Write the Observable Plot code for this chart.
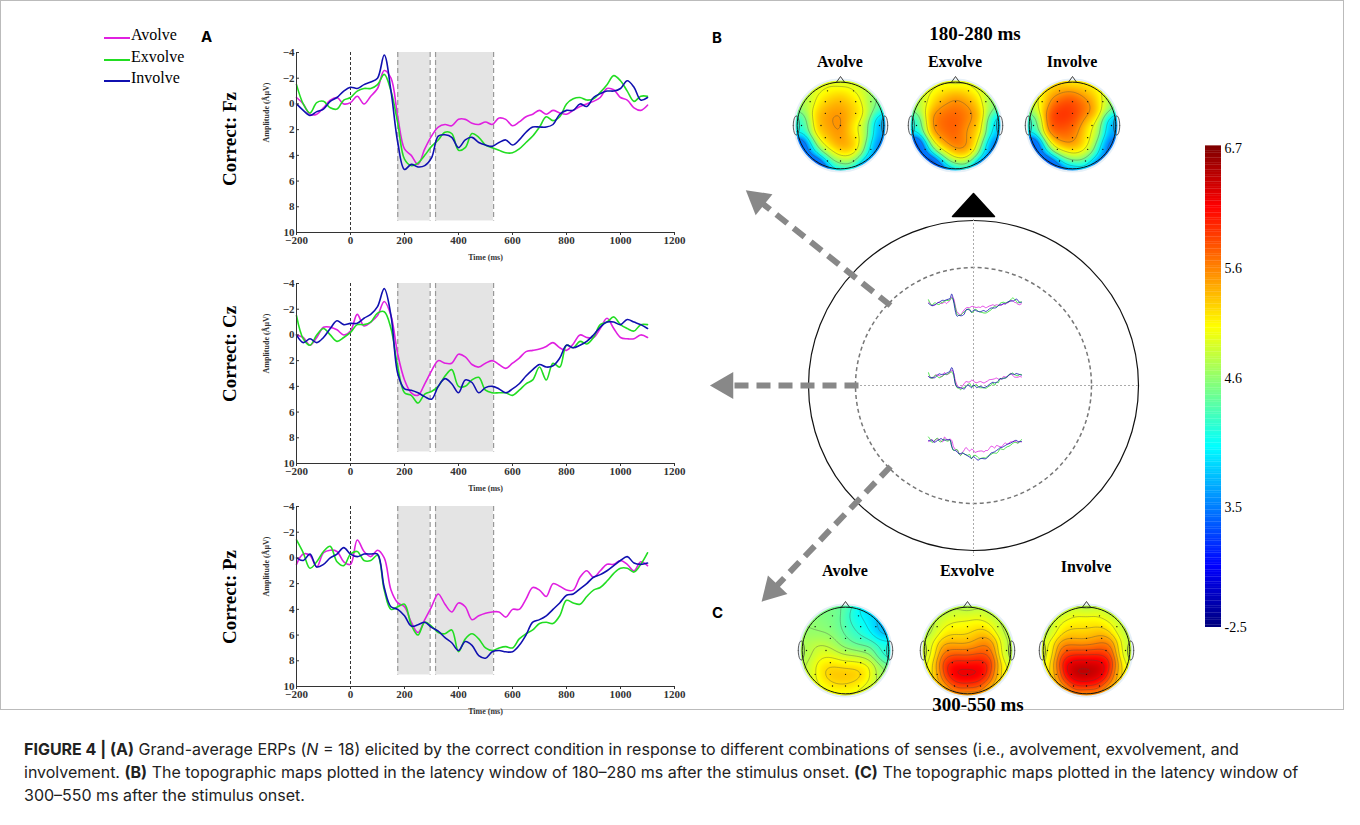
<!DOCTYPE html>
<html>
<head>
<meta charset="utf-8">
<script src="https://cdn.jsdelivr.net/npm/d3@7"></script>
<script src="https://cdn.jsdelivr.net/npm/@observablehq/plot@0.6"></script>
<style>
  body { margin: 0; background: #fff; }
  #fig { position: relative; width: 1360px; height: 825px; font-family: "Liberation Serif", serif; }
  .abs { position: absolute; }
  .box { left: 8px; top: 8px; width: 1344px; height: 710px; border: 1px solid #bbb; box-sizing: border-box; }
  .lab { font-family: Inter, "Liberation Sans", sans-serif; font-weight: bold; font-size: 15px; }
  .row { font-weight: bold; font-size: 19px; transform: rotate(-90deg); transform-origin: center; white-space: nowrap; width: 160px; text-align: center; }
  .ttl { font-weight: bold; font-size: 16px; text-align: center; width: 100px; }
  .win { font-weight: bold; font-size: 19px; text-align: center; width: 160px; }
  .leg { font-size: 16px; }
  .cap { font-family: Inter, "Liberation Sans", sans-serif; font-size: 16px; line-height: 23px; color: #222; width: 1300px; }
</style>
</head>
<body>
<div id="fig"></div>
<script>
// time axis of the waveforms, ms
const times = d3.range(-200, 1101, 25);
const conditions = ["Avolve", "Exvolve", "Involve"];
const condColors = ["#e020e0", "#22dd22", "#1010b0"];

// grand-average amplitudes (µV)
const fzAvolve = [-0.5,0,0.8,0.8,0.3,-0.3,-0.5,0,-0.1,-0.6,0,-0.6,-1.2,-2.6,-2,1,3.5,4,4.7,3.5,2.5,1.8,1.6,1.7,1.2,1.2,1.5,1.6,1.4,1.6,1.1,1.2,1.7,1.4,1.0,0.8,0.5,0.8,0.5,0.7,0.8,0.5,0.2,0,-0.2,-0.5,-1.2,-1.1,-0.5,-0.3,0.3,0.5,0.1];
const fzExvolve = [-1.5,0,0.7,-0.1,-0.2,0.3,0.4,-0.3,-0.5,-1,-1.2,-1.2,-1.5,-2.3,-1,1.5,4.3,4.8,4.6,4,3.3,2.8,2.2,2.3,3.6,3.4,2.3,2.6,3.2,3.4,3.6,3.8,3.8,3.5,3,2.5,1.8,1.0,1.3,1.0,0,-0.4,-0.5,-0.3,-0.4,-0.9,-1.5,-2.2,-1.8,-1.0,-0.2,-0.6,-0.6];
const fzInvolve = [0,0.5,0.9,0.6,0.4,-0.2,-0.5,-1.0,-1.3,-1.2,-1.5,-1.7,-2,-3.8,-1,3,5.1,4.7,4.9,4.8,4.2,2.5,2.4,2.6,3.4,2.8,2.6,3.0,3.2,3.3,3.0,2.8,3.2,2.8,2.2,1.8,1.8,1.8,1.6,0.8,0.5,0.5,0,0.2,-0.5,-0.8,-1,-1,-1.2,-1.8,-1.3,-0.3,-0.5];
const czAvolve = [0,0.2,0.8,0.2,-0.6,-0.6,-0.4,0,-0.3,-1.6,-0.7,-1.0,-1.5,-2.6,-1.5,1.5,3.5,4.5,4.7,3.8,2.8,2.0,2.2,2.2,1.5,1.7,2.3,2.5,2.2,2.0,2.3,2.6,2.2,1.8,1.3,1.2,1.1,0.9,0.6,1.0,1.2,0.7,0,0.2,0.2,-0.5,-1.3,-0.5,0.2,0.3,0.3,0,0.2];
const czExvolve = [-1.5,0.3,0.8,0,-0.5,0,0.5,0.2,-0.2,-0.8,-0.8,-1,-1.7,-1.8,-0.5,2.5,4.5,4.7,5.3,4.6,4.4,4.0,3.2,2.7,4.0,4.0,3.5,3.3,4.3,4.5,4.5,4.5,4.7,4.3,3.8,3.5,2.5,3.5,2.2,2.5,0.8,1.0,0.5,0.7,0.2,-0.8,-1,-1.4,-0.8,-0.5,-0.3,-0.8,-0.8];
const czInvolve = [0,0.6,0.3,0.6,0.2,-0.5,-1.1,-0.8,-0.9,-0.9,-1.3,-1.6,-2.2,-3.6,-1.5,3.0,4.2,4.3,4.5,4.8,5.0,4.0,3.4,3.8,4.5,3.5,3.7,4.5,4.1,4.0,4.2,4.5,4.2,3.8,3.2,2.7,2.3,2.5,2.4,1.8,0.8,1.0,0.8,0.5,0,-0.6,-1,-1,-0.8,-1.2,-1,-0.8,-0.5];
const pzAvolve = [0.5,-0.3,-0.2,0.7,-0.4,-0.6,-0.5,0.3,0.5,-1.4,-0.5,-0.1,-0.6,0,2.5,3.5,3.8,5.0,5.8,4.8,3.8,2.8,3.6,4.2,3.5,3.8,4.8,4.5,4.3,4.2,4.2,4.6,4.0,4.0,3.2,2.3,2.5,3.0,2.0,2.2,2.5,2.5,1.5,1.0,1.5,1.0,0.5,0.5,0.2,0.5,1.0,0.3,0.6];
const pzExvolve = [-1.4,-0.4,0.8,0.3,-0.5,-0.9,0.3,0.6,-0.3,-0.5,0.2,0.2,-0.2,2.5,4.0,3.8,3.6,5.2,6.0,5.0,5.3,5.8,5.9,5.6,7.3,6.3,5.9,6.3,7.0,7.2,7.0,6.9,7.0,6.3,5.9,5.6,5.1,5.0,5.1,4.5,3.3,3.5,3.6,3.0,2.5,2.3,1.8,1.2,0.8,0.8,1.1,0.5,-0.4];
const pzInvolve = [0,0.2,-0.3,0.7,0.5,0,-0.3,-0.8,-0.3,-0.1,-0.3,-0.3,-0.3,2.3,3.8,4.0,4.5,5.3,5.2,5.0,5.4,5.7,6.2,6.6,7.2,6.5,6.8,7.6,7.8,7.3,7.2,7.3,7.3,6.8,6.0,5.0,4.8,4.5,4.0,3.5,2.9,2.8,2.4,2.0,1.5,1.3,1.0,0.6,0.2,-0.1,0.4,0.5,0.4];

const electrodes = [
  { name: "Fz", series: [fzAvolve, fzExvolve, fzInvolve] },
  { name: "Cz", series: [czAvolve, czExvolve, czInvolve] },
  { name: "Pz", series: [pzAvolve, pzExvolve, pzInvolve] }
];

// analysis windows (ms)
const windows = [[175, 295], [315, 530]];
const xTicks = d3.range(-200, 1201, 200);
const yTicks = [-4, -2, 0, 2, 4, 6, 8, 10];

// scalp sites (unit head, x right, y up) and values of each map
const siteX = [-0.3,0.3, -0.7,-0.35,0,0.35,0.7, -0.35,0,0.35, -0.9,-0.45,0,0.45,0.9, -0.35,0,0.35, -0.7,-0.35,0,0.35,0.7, -0.3,0,0.3];
const siteY = [0.8,0.8, 0.55,0.55,0.55,0.55,0.55, 0.28,0.28,0.28, 0,0,0,0,0, -0.28,-0.28,-0.28, -0.55,-0.55,-0.55,-0.55,-0.55, -0.82,-0.82,-0.82];
const rimAngles = [90, 60, 30, 0, -30, -60, -90, -120, -150, 180, 150, 120];

const mapB = {
  Avolve: [5.0,5.0, 4.8,5.3,5.4,5.2,4.6, 5.5,5.6,5.3, 4.2,5.4,5.6,4.8,3.7, 5.3,5.6,5.0, 4.0,5.1,5.6,5.7,3.7, 4.2,4.9,4.7],
  Exvolve: [5.1,5.1, 4.9,5.4,5.6,5.5,4.8, 5.7,5.8,5.6, 4.2,5.7,5.8,5.4,4.0, 5.6,5.8,5.2, 3.9,5.3,5.8,5.9,3.8, 4.0,5.1,4.9],
  Involve: [5.3,5.2, 5.1,5.9,5.9,5.7,5.0, 6.0,6.0,5.6, 4.3,5.9,5.8,4.9,3.7, 5.7,5.7,5.0, 3.9,5.4,5.6,5.3,3.6, 3.8,4.7,4.4]
};
const rimB = {
  Avolve: [4.8,4.7,4.3,3.6,3.3,2.6,3.2,1.2,2.3,4.1,4.6,4.8],
  Exvolve: [4.8,4.7,4.4,3.6,3.1,2.3,2.7,0.8,1.8,4.0,4.6,4.8],
  Involve: [5.0,4.9,4.4,3.6,3.1,2.6,2.6,1.2,2.0,4.0,4.7,5.0]
};
const mapC = {
  Avolve: [4.5,4.0, 4.6,4.5,4.3,4.1,3.8, 4.7,4.4,4.2, 4.8,4.9,4.6,4.5,4.2, 5.1,5.0,5.0, 5.0,5.5,5.5,5.5,4.8, 5.1,5.2,5.0],
  Exvolve: [4.9,4.9, 4.9,5.1,5.0,5.2,4.8, 5.3,5.2,5.6, 5.0,5.6,5.6,5.7,4.8, 6.1,6.0,6.1, 5.4,6.5,6.5,6.5,5.3, 5.9,6.0,5.8],
  Involve: [5.0,5.0, 5.0,5.2,5.1,5.2,4.9, 5.4,5.3,5.6, 5.1,5.8,5.8,5.8,4.9, 6.3,6.3,6.3, 5.5,6.7,6.7,6.6,5.4, 6.0,6.1,5.9]
};
const rimC = {
  Avolve: [4.4,3.8,3.6,4.0,4.5,4.7,4.8,4.8,4.7,4.6,4.6,4.5],
  Exvolve: [4.6,4.6,4.7,4.7,4.8,4.8,4.8,4.8,4.8,4.7,4.6,4.6],
  Involve: [4.6,4.6,4.7,4.7,4.8,4.8,4.8,4.8,4.8,4.7,4.6,4.6]
};

// jet colour bar with its (non-uniform) tick labels
const cbTicks = [-2.5, 3.5, 4.6, 5.6, 6.7];
const cbTickPos = [0, 0.25, 0.52, 0.75, 1];
const jetStops = [0, 0.125, 0.25, 0.375, 0.5, 0.625, 0.75, 0.875, 1];
const jetColors = ["#00007f","#0000ff","#0080ff","#00ffff","#80ff80","#ffff00","#ff8000","#ff0000","#800000"];
const valueToPos = d3.scaleLinear(cbTicks, cbTickPos);
const jetDomain = jetStops.map(valueToPos.invert);

const fig = document.getElementById("fig");
function place(el, left, top, cls) {
  const d = document.createElement("div");
  d.className = "abs " + (cls || "");
  d.style.left = left + "px"; d.style.top = top + "px";
  if (typeof el === "string") d.innerHTML = el; else d.appendChild(el);
  fig.appendChild(d);
  return d;
}

place("", 0, 0, "box");

// ---------- A: ERP waveforms ----------
function erpPlot(e) {
  const rows = e.series.flatMap((s, i) => s.map((v, j) => ({ t: times[j], v, cond: conditions[i] })));
  return Plot.plot({
    width: 430, height: 220,
    marginLeft: 36, marginRight: 16, marginTop: 10, marginBottom: 30,
    style: { fontFamily: "Liberation Serif, serif", fontWeight: "bold", fontSize: "11px", color: "#333" },
    x: { domain: [-200, 1200], ticks: xTicks, tickFormat: "d", label: null },
    y: { domain: [-4, 10], reverse: true, ticks: yTicks, tickFormat: "d", label: null },
    color: { domain: conditions, range: condColors },
    marks: [
      Plot.rect(windows, { x1: d => d[0], x2: d => d[1], y1: -4, y2: 9.1, fill: "#e4e4e4" }),
      Plot.ruleX(windows.flat(), { y1: -4, y2: 9.1, stroke: "#999", strokeDasharray: "5,3", strokeWidth: 1.2 }),
      Plot.ruleX([0], { y1: -4, y2: 10, stroke: "#333", strokeDasharray: "3,2" }),
      Plot.line(rows, { x: "t", y: "v", z: "cond", stroke: "cond", strokeWidth: 1.6, curve: "catmull-rom" }),
      Plot.axisX({ ticks: xTicks, tickFormat: "d", tickSize: 3, tickPadding: 1 }),
      Plot.axisY({ ticks: yTicks, tickFormat: "d", tickSize: -3, tickPadding: 5 }),
      Plot.ruleX([-200], { stroke: "#333" }),
      Plot.ruleY([10], { stroke: "#333" }),
      Plot.text(["Amplitude (ÂµV)"], { frameAnchor: "left", dx: -30, rotate: -90, fontSize: 8 }),
      Plot.text(["Time (ms)"], { frameAnchor: "bottom", dy: 27, fontSize: 8 })
    ]
  });
}
const erpTops = [42, 273, 496];
const rowCenters = [140, 355, 598];
electrodes.forEach((e, i) => {
  place(erpPlot(e), 260, erpTops[i]);
  place("Correct: " + e.name, 150, rowCenters[i] - 12, "row");
});

// legend
conditions.forEach((c, i) => {
  place(`<svg width="26" height="4"><line x1="0" y1="2" x2="26" y2="2" stroke="${condColors[i]}" stroke-width="2"/></svg><span style="margin-left:1px">${c}</span>`,
    104, 26 + i * 21.5, "leg");
});
place("A", 201, 27, "lab");
place("B", 712, 28, "lab");
place("C", 712, 603, "lab");

// ---------- B / C: topographic maps ----------
// smooth field: gaussian-kernel average of the site values
function field(pts) {
  return (x, y) => {
    let s = 0, w = 0;
    for (const p of pts) {
      const k = Math.exp(-((x - p.x) ** 2 + (y - p.y) ** 2) / 0.09);
      s += k * p.v; w += k;
    }
    return s / w;
  };
}
function topo(values, rim) {
  const pts = values.map((v, i) => ({ x: siteX[i], y: siteY[i], v }))
    .concat(rim.map((v, i) => ({ x: 1.1 * Math.cos(rimAngles[i] * Math.PI / 180), y: 1.1 * Math.sin(rimAngles[i] * Math.PI / 180), v })));
  const f = field(pts);
  const head = d3.range(0, 361, 5).map(a => ({ x: Math.cos(a * Math.PI / 180), y: Math.sin(a * Math.PI / 180) }));
  const ear = s => d3.range(0, 361, 15).map(a => ({ x: s * (1.02 + 0.07 * Math.cos(a * Math.PI / 180)), y: 0.22 * Math.sin(a * Math.PI / 180) }));
  const nose = [{ x: -0.1, y: 0.99 }, { x: 0, y: 1.13 }, { x: 0.1, y: 0.99 }];
  const size = 104;
  const ext = { x1: -1.2, x2: 1.2, y1: -1.2, y2: 1.2 };
  return Plot.plot({
    width: size, height: size, margin: 0,
    x: { domain: [-1.2, 1.2], axis: null },
    y: { domain: [-1.2, 1.2], axis: null },
    color: { type: "linear", domain: jetDomain, range: jetColors, clamp: true },
    marks: [
      Plot.raster({ ...ext, fill: f, pixelSize: 1 }),
      Plot.contour({ ...ext, value: f, thresholds: 10, stroke: "#444", strokeWidth: 0.5, strokeOpacity: 0.7, fill: "none" }),
      Plot.dot([0], { x: () => 0, y: () => 0, r: size / 2.4 * 1.06 + 25, stroke: "white", strokeWidth: 50, fill: "none" }),
      Plot.dot([0], { x: () => 0, y: () => 0, r: size / 2.4 * 1.06, stroke: "#e6f0f8", strokeWidth: 2, fill: "none" }),
      Plot.line(head, { x: "x", y: "y", stroke: "#111", strokeWidth: 1 }),
      Plot.line(ear(1), { x: "x", y: "y", stroke: "#333", strokeWidth: 0.8 }),
      Plot.line(ear(-1), { x: "x", y: "y", stroke: "#333", strokeWidth: 0.8 }),
      Plot.line(nose, { x: "x", y: "y", stroke: "#111", strokeWidth: 0.8 }),
      Plot.dot(pts.slice(0, values.length), { x: "x", y: "y", r: 0.7, fill: "#111" })
    ]
  });
}
const topoB = [[788, 73], [903, 73], [1020, 73]];
const topoC = [[793, 598], [915, 598], [1034, 598]];
conditions.forEach((c, i) => {
  place(topo(mapB[c], rimB[c]), topoB[i][0], topoB[i][1]);
  place(c, topoB[i][0] + 2, 53, "ttl");
  place(topo(mapC[c], rimC[c]), topoC[i][0], topoC[i][1]);
  place(c, topoC[i][0] + 2, 562 - (i === 2 ? 4 : 0), "ttl");
});
place("180-280 ms", 895, 23, "win");
place("300-550 ms", 898, 694, "win");

// ---------- centre head with mini waveforms and arrows ----------
(function () {
  const cx = 973, cy = 385;
  const miniX = d3.scaleLinear([-200, 1100], [928, 1021]);
  const miniBase = [303, 376, 440];
  const mini = electrodes.flatMap((e, k) => e.series.flatMap((s, i) => s.map((v, j) => ({ px: miniX(times[j]), py: miniBase[k] + v * 2.5, key: e.name + conditions[i], cond: conditions[i] }))));
  const arrows = [
    { x1: 890, y1: 305, x2: 752, y2: 195 },
    { x1: 858, y1: 385, x2: 718, y2: 385 },
    { x1: 890, y1: 466, x2: 767, y2: 595 }
  ];
  // shafts stop short of the tip; a filled triangle forms the head
  const shafts = arrows.map(a => {
    const L = Math.hypot(a.x1 - a.x2, a.y1 - a.y2), k = 14 / L;
    return { x1: a.x1, y1: a.y1, x2: a.x2 + (a.x1 - a.x2) * k, y2: a.y2 + (a.y1 - a.y2) * k };
  });
  const heads = arrows.map(a => {
    const L = Math.hypot(a.x1 - a.x2, a.y1 - a.y2), k = 7 / L;
    return { x: a.x2 + (a.x1 - a.x2) * k, y: a.y2 + (a.y1 - a.y2) * k, angle: Math.atan2(a.x2 - a.x1, a.y1 - a.y2) * 180 / Math.PI };
  });
  const p = Plot.plot({
    width: 480, height: 430, margin: 0,
    x: { domain: [700, 1180], axis: null },
    y: { domain: [180, 610], reverse: true, axis: null },
    color: { domain: conditions, range: condColors },
    marks: [
      Plot.dot([0], { x: () => cx, y: () => cy, r: 165, stroke: "#111", strokeWidth: 1.2, fill: "white" }),
      Plot.dot([0], { x: () => cx, y: () => cy, r: 118, stroke: "#777", strokeDasharray: "4,3", fill: "none" }),
      Plot.ruleX([cx], { y1: 215, y2: 556, stroke: "#aaa", strokeDasharray: "2,2" }),
      Plot.ruleY([cy], { x1: 856, x2: 1140, stroke: "#aaa", strokeDasharray: "2,2" }),
      Plot.line([{ x: 952, y: 216 }, { x: 973, y: 193 }, { x: 994, y: 216 }, { x: 952, y: 216 }], { x: "x", y: "y", fill: "#000", stroke: "#000" }),
      Plot.line(mini, { x: "px", y: "py", z: "key", stroke: "cond", strokeWidth: 0.8, curve: "catmull-rom" }),
      Plot.link(shafts, { x1: "x1", y1: "y1", x2: "x2", y2: "y2", stroke: "#888", strokeWidth: 6, strokeDasharray: "14,8" }),
      Plot.dot(heads, { x: "x", y: "y", symbol: "triangle", rotate: "angle", r: 10, fill: "#888" })
    ]
  });
  place(p, 700, 180);
})();

// ---------- colour bar ----------
(function () {
  const cb = d3.range(0, 1.0001, 0.005);
  const p = Plot.plot({
    width: 60, height: 500, marginTop: 10, marginBottom: 11, marginLeft: 4, marginRight: 40,
    x: { domain: [0, 1], axis: null },
    y: { domain: [0, 1], axis: null },
    color: { type: "linear", domain: jetStops, range: jetColors },
    marks: [
      Plot.rect(cb, { x1: 0, x2: 1, y1: d => d, y2: d => d + 0.0055, fill: d => d }),
      Plot.text(cbTicks, { x: 1, y: (d, i) => cbTickPos[i], text: d => d3.format(".1f")(d).replace("−", "-"), textAnchor: "start", dx: 3, fontSize: 14, fontFamily: "Liberation Serif, serif" })
    ]
  });
  place(p, 1201, 138);
})();

place(`<b>FIGURE 4 | (A)</b> Grand-average ERPs (<i>N</i> = 18) elicited by the correct condition in response to different combinations of senses (i.e., avolvement, exvolvement, and involvement. <b>(B)</b> The topographic maps plotted in the latency window of 180–280 ms after the stimulus onset. <b>(C)</b> The topographic maps plotted in the latency window of 300–550 ms after the stimulus onset.`, 24, 738, "cap");
</script>
</body>
</html>
